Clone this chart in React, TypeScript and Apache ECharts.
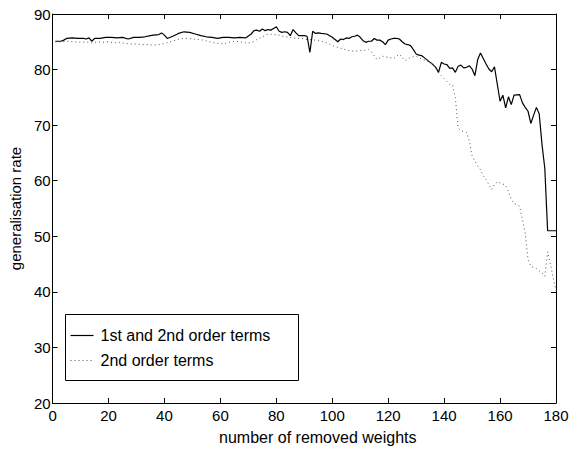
import React, { useEffect, useRef } from "react";
import * as echarts from "echarts";

const xTicks = [0, 20, 40, 60, 80, 100, 120, 140, 160, 180];
const yTicks = [20, 30, 40, 50, 60, 70, 80, 90];

const solidName = "1st and 2nd order terms";
const dottedName = "2nd order terms";

const solidX = [1,3,4,5,7,9,11,12,13,14,15,17,19,21,23,25,27,29,31,33,35,36,38,39,40,41,43,45,47,49,51,53,55,57,59,61,63,65,67,69,71,72,73,74,75,76,77,78,79,80,81,82,83,84,85,86,87,88,89,90,91,92,93,94,95,96,98,100,101,102,103,104,105,106,107,108,109,110,111,112,113,114,115,116,117,118,119,120,121,122,123,124,125,126,127,128,129,130,131,132,133,134,135,136,137,138,139,140,141,142,143,144,145,146,147,148,149,150,151,152,153,154,155,156,157,158,160,161,162,163,164,165,167,168,169,170,171,172,173,174,175,176,177,180];
const solidY = [85.1,85.1,85.3,85.6,85.7,85.6,85.6,85.5,85.7,85.1,85.6,85.6,85.8,85.8,85.7,85.8,85.5,85.8,85.8,85.9,86.1,86.2,86.3,86.6,86.2,85.6,86.0,86.5,86.8,86.7,86.4,86.1,85.9,85.8,85.6,85.8,85.8,85.7,85.8,85.7,86.4,87.0,87.1,86.9,87.3,87.0,87.2,87.1,87.4,87.7,86.9,86.7,86.8,86.7,86.1,87.2,86.6,86.1,86.1,86.1,86.0,83.1,86.9,86.5,86.6,86.5,86.4,85.8,85.4,85.0,85.5,85.4,85.7,85.6,85.9,86.0,86.2,85.8,85.2,84.9,85.1,85.1,85.6,85.3,85.3,85.0,84.5,85.3,85.5,85.6,85.6,85.5,85.0,84.6,84.5,84.3,83.6,82.8,82.6,82.5,82.1,81.7,81.3,80.9,80.4,79.5,81.3,81.0,80.9,80.2,80.3,79.5,80.6,80.8,80.3,80.4,80.7,80.1,78.9,81.8,83.0,82.0,81.0,80.1,79.6,80.5,74.3,75.4,73.1,75.1,73.7,75.4,75.5,74.0,73.2,72.5,70.3,71.8,73.2,72.0,66.5,62.2,51.0,51.0];

const dottedX = [1,3,5,8,10,12,14,16,18,20,22,24,26,28,30,32,34,36,38,40,42,44,46,48,50,52,54,56,58,61,63,65,67,69,71,73,75,77,79,81,83,85,87,89,91,94,96,98,100,102,104,106,108,110,112,113,114,116,118,120,122,124,126,128,130,132,134,136,138,140,142,143,144,145,146,148,149,150,151,152,153,154,155,156,157,158,159,160,161,162,163,164,165,166,167,168,169,170,171,172,173,174,175,176,177,178,179,180];
const dottedY = [85.0,85.0,85.1,85.0,84.9,85.0,84.8,85.0,84.9,85.0,84.8,84.9,84.7,84.6,84.6,84.5,84.5,84.4,84.5,84.7,85.0,85.3,85.6,85.6,85.5,85.4,85.3,85.0,84.8,84.6,84.9,85.1,85.0,84.8,84.8,85.4,85.9,86.4,86.3,86.2,85.9,85.8,85.6,85.6,85.4,85.3,85.1,84.8,84.3,84.0,83.7,83.4,83.3,83.4,83.5,83.6,83.2,81.8,82.4,82.2,82.0,82.8,81.6,82.2,82.4,81.9,81.5,81.0,79.4,78.4,77.3,77.2,75.0,69.5,69.0,68.7,67.2,64.5,63.5,62.6,62.0,60.9,60.2,59.3,58.4,59.4,59.8,59.6,59.4,59.2,58.0,56.7,55.9,55.7,55.4,53.0,50.5,45.8,44.6,44.4,44.2,43.8,43.4,42.8,47.2,45.0,42.5,40.2];

const FONT = "'Liberation Sans', Arial, Helvetica, sans-serif";

export default function App() {
  const ref = useRef<HTMLDivElement>(null);
  useEffect(() => {
    if (!ref.current) return;
    const chart = echarts.init(ref.current, undefined, { renderer: "svg" });
    const axisLine = { show: true, onZero: false, lineStyle: { color: "#000", width: 1 } };
    const tick = { show: true, inside: true, length: 5, lineStyle: { color: "#000", width: 1 } };
    const dottedStyle = { color: "#555", width: 1, type: [1, 3] as number[] };
    chart.setOption({
      animation: false,
      backgroundColor: "#fff",
      textStyle: { fontFamily: FONT },
      grid: { left: 48, top: 14, width: 508, height: 397, containLabel: false },
      xAxis: [
        {
          type: "value",
          min: 0,
          max: 180,
          interval: 20,
          position: "bottom",
          axisLine,
          axisTick: tick,
          splitLine: { show: false },
          axisLabel: { color: "#000", fontSize: 15, fontFamily: FONT, margin: 5,
            formatter: (v: number) => (xTicks.includes(v) ? String(v) : "") },
          name: "number of removed weights",
          nameLocation: "middle",
          nameGap: 26,
          nameTextStyle: { color: "#000", fontSize: 16, fontFamily: FONT, padding: [0, 0, 0, 27] },
        },
        {
          type: "value",
          min: 0,
          max: 180,
          interval: 20,
          position: "top",
          axisLine,
          axisTick: tick,
          splitLine: { show: false },
          axisLabel: { show: false },
        },
      ],
      yAxis: [
        {
          type: "value",
          min: 20,
          max: 90,
          interval: 10,
          position: "left",
          axisLine,
          axisTick: tick,
          splitLine: { show: false },
          axisLabel: { color: "#000", fontSize: 15, fontFamily: FONT, margin: 2,
            formatter: (v: number) => (yTicks.includes(v) ? String(v) : "") },
          name: "generalisation rate",
          nameLocation: "middle",
          nameGap: 27,
          nameRotate: 90,
          nameTextStyle: { color: "#000", fontSize: 15, fontFamily: FONT },
        },
        {
          type: "value",
          min: 20,
          max: 90,
          interval: 10,
          position: "right",
          axisLine,
          axisTick: tick,
          splitLine: { show: false },
          axisLabel: { show: false },
        },
      ],
      graphic: [
        {
          type: "group",
          left: 65,
          top: 314,
          z: 100,
          children: [
            { type: "rect", shape: { x: 0, y: 0, width: 233, height: 66 },
              style: { fill: "#fff", stroke: "#000", lineWidth: 1 } },
            { type: "line", shape: { x1: 5, y1: 21, x2: 28, y2: 21 },
              style: { stroke: "#000", lineWidth: 1.2 } },
            { type: "line", shape: { x1: 5, y1: 46, x2: 28, y2: 46 },
              style: { stroke: dottedStyle.color, lineWidth: 1, lineDash: [1, 3] } },
            { type: "text", x: 35, y: 21,
              style: { text: solidName, font: `16px ${FONT}`, fill: "#000", verticalAlign: "middle", align: "left" } },
            { type: "text", x: 35, y: 46,
              style: { text: dottedName, font: `16px ${FONT}`, fill: "#000", verticalAlign: "middle", align: "left" } },
          ],
        },
      ],
      series: [
        {
          name: solidName,
          type: "line",
          xAxisIndex: 0,
          yAxisIndex: 0,
          symbol: "none",
          lineStyle: { color: "#000", width: 1.2, type: "solid" },
          data: solidX.map((x, i) => [x, solidY[i]]),
        },
        {
          name: dottedName,
          type: "line",
          xAxisIndex: 0,
          yAxisIndex: 0,
          symbol: "none",
          lineStyle: dottedStyle,
          data: dottedX.map((x, i) => [x, dottedY[i]]),
        },
      ],
    });
    return () => chart.dispose();
  }, []);
  return (
    <div
      ref={ref}
      style={{ position: "fixed", left: 0, top: 0, width: 586, height: 450, background: "#fff" }}
    />
  );
}
